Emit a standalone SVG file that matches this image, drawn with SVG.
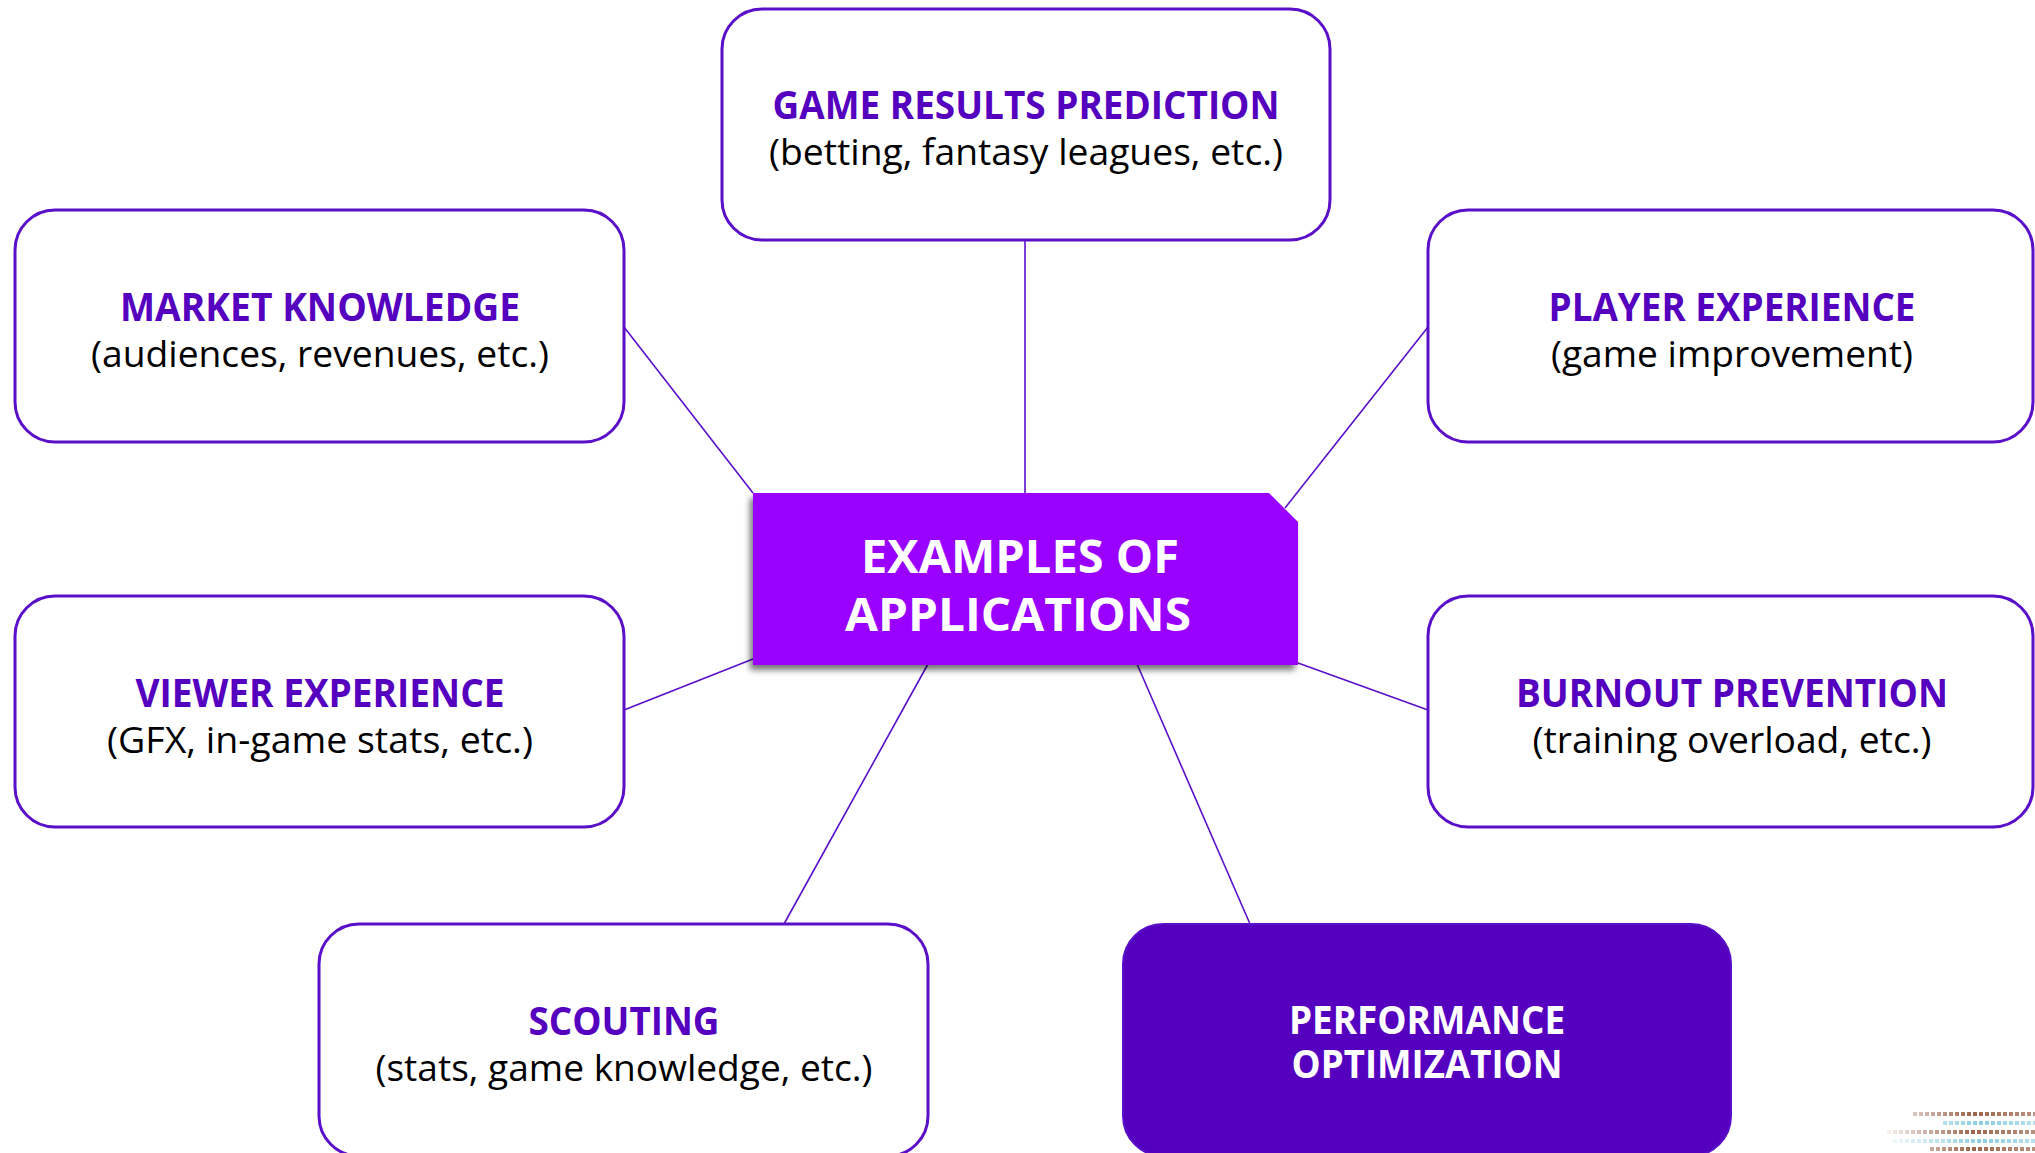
<svg xmlns="http://www.w3.org/2000/svg" width="2035" height="1153" viewBox="0 0 2035 1153">
  <defs>
    <style>
      .box { fill: #ffffff; stroke: #5a0fc8; stroke-width: 3; }
      .boxdark { fill: #5500bf; stroke: #5a0fc8; stroke-width: 2; }
      .title { font-family: "Open Sans", "Liberation Sans", sans-serif; font-weight: 700; font-size: 40px; fill: #5500bf; text-anchor: middle; }
      .sub { font-family: "Open Sans", "Liberation Sans", sans-serif; font-weight: 400; font-size: 37px; fill: #000000; text-anchor: middle; }
      .white { font-family: "Open Sans", "Liberation Sans", sans-serif; font-weight: 700; fill: #ffffff; text-anchor: middle; }
      .conn line { stroke: #5a0fc8; stroke-width: 1.6; fill: none; }
    </style>
    <filter id="shadow" x="-10%" y="-10%" width="120%" height="130%">
      <feGaussianBlur in="SourceAlpha" stdDeviation="3"/>
      <feOffset dx="-3" dy="5" result="b"/>
      <feComponentTransfer><feFuncA type="linear" slope="0.55"/></feComponentTransfer>
      <feMerge><feMergeNode/><feMergeNode in="SourceGraphic"/></feMerge>
    </filter>
    <linearGradient id="gBrown" x1="1880" y1="0" x2="2035" y2="0" gradientUnits="userSpaceOnUse">
      <stop offset="0" stop-color="#8b4a2b" stop-opacity="0"/>
      <stop offset="0.6" stop-color="#8b4a2b" stop-opacity="0.85"/>
      <stop offset="1" stop-color="#8b4a2b" stop-opacity="0.6"/>
    </linearGradient>
    <linearGradient id="gBlue" x1="1880" y1="0" x2="2035" y2="0" gradientUnits="userSpaceOnUse">
      <stop offset="0" stop-color="#6cc3dc" stop-opacity="0"/>
      <stop offset="0.65" stop-color="#6cc3dc" stop-opacity="0.8"/>
      <stop offset="1" stop-color="#6cc3dc" stop-opacity="0.5"/>
    </linearGradient>
  </defs>
  <rect width="2035" height="1153" fill="#ffffff"/>

  <g id="connectors" class="conn">
    <line x1="1025" y1="240" x2="1025" y2="493"/>
    <line x1="624" y1="327" x2="753" y2="493"/>
    <line x1="1428" y1="327" x2="1285" y2="508"/>
    <line x1="624" y1="710" x2="753" y2="659"/>
    <line x1="1428" y1="710" x2="1298" y2="663"/>
    <line x1="784" y1="924" x2="928" y2="664"/>
    <line x1="1250" y1="924" x2="1137" y2="664"/>
  </g>

  <g id="node-game-results">
    <rect class="box" x="722" y="9" width="608" height="231" rx="40"/>
    <text class="title" x="1026" y="119" textLength="507" lengthAdjust="spacingAndGlyphs">GAME RESULTS PREDICTION</text>
    <text class="sub" x="1026" y="165" textLength="514" lengthAdjust="spacingAndGlyphs">(betting, fantasy leagues, etc.)</text>
  </g>

  <g id="node-market-knowledge">
    <rect class="box" x="15" y="210" width="609" height="232" rx="40"/>
    <text class="title" x="320" y="321" textLength="400" lengthAdjust="spacingAndGlyphs">MARKET KNOWLEDGE</text>
    <text class="sub" x="320" y="367" textLength="458" lengthAdjust="spacingAndGlyphs">(audiences, revenues, etc.)</text>
  </g>

  <g id="node-player-experience">
    <rect class="box" x="1428" y="210" width="605" height="232" rx="40"/>
    <text class="title" x="1732" y="321" textLength="367" lengthAdjust="spacingAndGlyphs">PLAYER EXPERIENCE</text>
    <text class="sub" x="1732" y="367" textLength="362" lengthAdjust="spacingAndGlyphs">(game improvement)</text>
  </g>

  <g id="node-viewer-experience">
    <rect class="box" x="15" y="596" width="609" height="231" rx="40"/>
    <text class="title" x="320" y="707" textLength="369" lengthAdjust="spacingAndGlyphs">VIEWER EXPERIENCE</text>
    <text class="sub" x="320" y="753" textLength="426" lengthAdjust="spacingAndGlyphs">(GFX, in-game stats, etc.)</text>
  </g>

  <g id="node-burnout-prevention">
    <rect class="box" x="1428" y="596" width="605" height="231" rx="40"/>
    <text class="title" x="1732" y="707" textLength="432" lengthAdjust="spacingAndGlyphs">BURNOUT PREVENTION</text>
    <text class="sub" x="1732" y="753" textLength="399" lengthAdjust="spacingAndGlyphs">(training overload, etc.)</text>
  </g>

  <g id="node-scouting">
    <rect class="box" x="319" y="924" width="609" height="232" rx="40"/>
    <text class="title" x="624" y="1035" textLength="191" lengthAdjust="spacingAndGlyphs">SCOUTING</text>
    <text class="sub" x="624" y="1081" textLength="497" lengthAdjust="spacingAndGlyphs">(stats, game knowledge, etc.)</text>
  </g>

  <g id="node-performance-optimization">
    <rect class="boxdark" x="1123" y="924" width="608" height="232" rx="40"/>
    <text class="white" x="1427" y="1034" font-size="40" textLength="276" lengthAdjust="spacingAndGlyphs">PERFORMANCE</text>
    <text class="white" x="1427" y="1078" font-size="40" textLength="271" lengthAdjust="spacingAndGlyphs">OPTIMIZATION</text>
  </g>

  <g id="node-examples-of-applications">
    <polygon points="753,493 1269,493 1298,522 1298,665 753,665" fill="#9900ff" filter="url(#shadow)"/>
    <text class="white" x="1020" y="573" font-size="46" textLength="318" lengthAdjust="spacingAndGlyphs">EXAMPLES OF</text>
    <text class="white" x="1018" y="631" font-size="46" textLength="346" lengthAdjust="spacingAndGlyphs">APPLICATIONS</text>
  </g>

  <g id="decoration" stroke-width="4" stroke-dasharray="4 2">
    <line x1="1913" y1="1114" x2="2035" y2="1114" stroke="url(#gBrown)"/>
    <line x1="1943" y1="1123" x2="2035" y2="1123" stroke="url(#gBlue)"/>
    <line x1="1887" y1="1132" x2="2035" y2="1132" stroke="url(#gBrown)"/>
    <line x1="1893" y1="1141" x2="2035" y2="1141" stroke="url(#gBlue)"/>
    <line x1="1930" y1="1149" x2="2035" y2="1149" stroke="url(#gBrown)"/>
  </g>
</svg>
